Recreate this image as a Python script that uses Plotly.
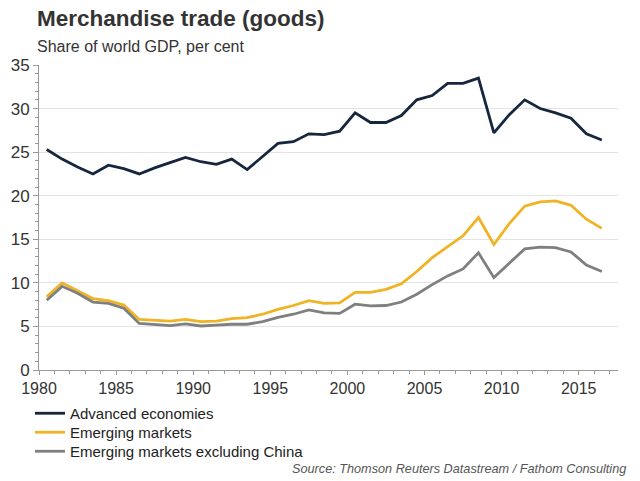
import plotly.graph_objects as go

years = list(range(1980, 2017))
advanced = [25.3, 24.2, 23.3, 22.5, 23.5, 23.1, 22.5, 23.2, 23.8, 24.4,
            23.9, 23.6, 24.2, 23.0, 24.5, 26.0, 26.2, 27.1, 27.0, 27.4,
            29.5, 28.4, 28.4, 29.2, 31.0, 31.5, 32.9, 32.9, 33.5, 27.2,
            29.3, 31.0, 30.0, 29.5, 28.9, 27.1, 26.4]
emerging = [8.4, 10.0, 9.1, 8.2, 7.95, 7.45, 5.8, 5.7, 5.6, 5.8,
            5.55, 5.6, 5.9, 6.0, 6.4, 6.95, 7.4, 7.95, 7.65, 7.7,
            8.9, 8.9, 9.25, 9.9, 11.3, 12.9, 14.2, 15.4, 17.5, 14.4,
            16.8, 18.8, 19.3, 19.4, 18.9, 17.3, 16.25]
emerging_ex_china = [8.0, 9.6, 8.8, 7.8, 7.65, 7.1, 5.35, 5.25, 5.1, 5.3,
                     5.05, 5.15, 5.25, 5.25, 5.55, 6.05, 6.4, 6.9, 6.55, 6.5,
                     7.55, 7.35, 7.4, 7.8, 8.7, 9.8, 10.8, 11.6, 13.45, 10.6,
                     12.2, 13.9, 14.1, 14.05, 13.55, 12.05, 11.3]
series_names = ["Advanced economies", "Emerging markets", "Emerging markets excluding China"]
series_colors = ["#15263d", "#f0b323", "#7f7f7f"]
x_ticks = [1980, 1985, 1990, 1995, 2000, 2005, 2010, 2015]
y_ticks = [0, 5, 10, 15, 20, 25, 30, 35]

xpos = [y + 0.5 for y in years]

L, R, T, B = 39, 22, 65, 111
PW, PH = 640 - L - R, 481 - T - B


def px_x(px):
    return (px - L) / PW


def px_y(py):
    return (481 - B - py) / PH


legend_keys = ["legend", "legend2", "legend3"]
legend_tops = [397, 416, 435]

fig = go.Figure()
for name, vals, col, lk in zip(series_names, [advanced, emerging, emerging_ex_china],
                               series_colors, legend_keys):
    fig.add_trace(go.Scatter(x=xpos, y=vals, mode="lines", name=name, legend=lk,
                             line=dict(color=col, width=2.8)))

legend_style = dict(xanchor="left", yanchor="top", font=dict(size=15, color="#222222"),
                    itemwidth=30, bgcolor="rgba(0,0,0,0)")

fig.update_layout(
    width=640, height=481,
    margin=dict(l=L, r=R, t=T, b=B, autoexpand=False),
    paper_bgcolor="white", plot_bgcolor="white",
    font=dict(family="Liberation Sans, Arial, sans-serif", color="#333333"),
    showlegend=True,
    xaxis=dict(range=[1980, 2017.55], tickvals=x_ticks, ticks="outside", ticklen=4,
               tickcolor="#999999", showline=True, linecolor="#999999", linewidth=1,
               showgrid=False, zeroline=False, tickfont=dict(size=16, color="#333333"),
               automargin=False,
               minor=dict(dtick=1, tick0=1980, ticks="outside", ticklen=3, tickcolor="#999999")),
    yaxis=dict(range=[0, 35], tickvals=y_ticks, ticks="outside", ticklen=5,
               tickcolor="#999999", showline=True, linecolor="#999999", linewidth=1,
               showgrid=True, gridcolor="#e3e3e3", gridwidth=1, zeroline=False,
               tickfont=dict(size=17, color="#333333"), automargin=False,
               minor=dict(dtick=1, ticks="outside", ticklen=3, tickcolor="#999999", showgrid=False)),
    annotations=[
        dict(text="<b>Merchandise trade (goods)</b>", xref="paper", yref="paper",
             x=px_x(35), y=px_y(4), xanchor="left", yanchor="top",
             showarrow=False, font=dict(size=22.5, color="#333333")),
        dict(text="Share of world GDP, per cent", xref="paper", yref="paper",
             x=px_x(35), y=px_y(36), xanchor="left", yanchor="top",
             showarrow=False, font=dict(size=16, color="#333333")),
        dict(text="<i>Source: Thomson Reuters Datastream / Fathom Consulting</i>",
             xref="paper", yref="paper", x=px_x(628), y=px_y(460),
             xanchor="right", yanchor="top", showarrow=False,
             font=dict(size=12.7, color="#555555")),
    ],
)
for lk, top in zip(legend_keys, legend_tops):
    fig.update_layout({lk: dict(x=px_x(30), y=px_y(top), **legend_style)})

fig.write_html("out.html", config={"displayModeBar": False},
               post_script="document.body.style.margin='0';")
